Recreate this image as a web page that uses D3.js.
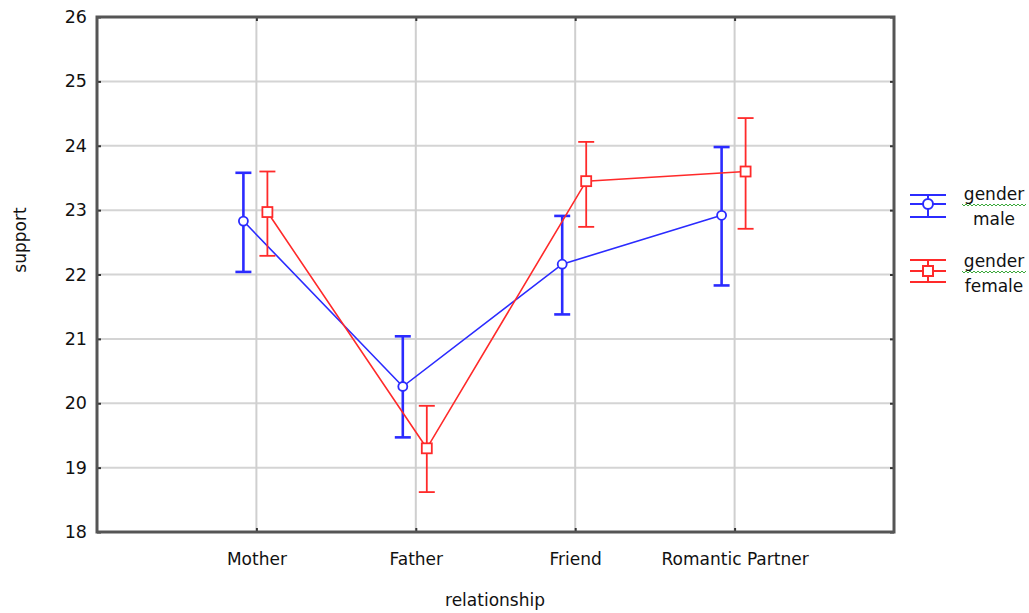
<!DOCTYPE html>
<html>
<head>
<meta charset="utf-8">
<script src="https://cdn.jsdelivr.net/npm/d3@7"></script>
<style>
  body { margin: 0; background: #fff; }
  text { font-family: "DejaVu Sans", sans-serif; fill: #111; }
</style>
</head>
<body>
<script>
// data
var categories = ["Mother", "Father", "Friend", "Romantic Partner"];
var yTicks = [18, 19, 20, 21, 22, 23, 24, 25, 26];

var maleMean  = [22.83, 20.26, 22.16, 22.92];
var maleLow   = [22.04, 19.47, 21.38, 21.83];
var maleHigh  = [23.58, 21.04, 22.91, 23.98];

var femaleMean = [22.97, 19.30, 23.45, 23.60];
var femaleLow  = [22.29, 18.62, 22.74, 22.71];
var femaleHigh = [23.60, 19.96, 24.06, 24.43];

var seriesNames = ["male", "female"];
var seriesColors = ["#2b2bff", "#ff2a2a"];

// plot area
var margin = {top: 17, right: 135, bottom: 81, left: 97},
    width = 1029 - margin.left - margin.right,
    height = 613 - margin.top - margin.bottom;

var svg = d3.select("body").append("svg")
    .attr("width", 1029)
    .attr("height", 613);

var g = svg.append("g")
    .attr("transform", "translate(" + margin.left + "," + margin.top + ")");

var x = d3.scalePoint().domain(categories).range([0, width]).padding(1);
var y = d3.scaleLinear().domain([18, 26]).range([height, 0]);

// grid lines
g.selectAll(".hgrid").data(yTicks).enter().append("line")
    .attr("x1", 0).attr("x2", width)
    .attr("y1", function(d) { return y(d); })
    .attr("y2", function(d) { return y(d); })
    .style("stroke", "#d4d4d4").style("stroke-width", 2);

g.selectAll(".vgrid").data(categories).enter().append("line")
    .attr("x1", function(d) { return x(d); })
    .attr("x2", function(d) { return x(d); })
    .attr("y1", 0).attr("y2", height)
    .style("stroke", "#cfcfcf").style("stroke-width", 2);

// left axis
var yAxis = g.append("g")
    .call(d3.axisLeft(y).tickValues(yTicks).tickSize(-4).tickPadding(10).tickFormat(d3.format("d")));
yAxis.select(".domain").remove();
yAxis.selectAll("line").style("stroke", "#333").style("stroke-width", 2);
yAxis.selectAll("text").style("font-size", "17.5px");

// right axis ticks
var yAxisR = g.append("g")
    .attr("transform", "translate(" + width + ",0)")
    .call(d3.axisRight(y).tickValues(yTicks).tickSize(-4).tickFormat(""));
yAxisR.select(".domain").remove();
yAxisR.selectAll("line").style("stroke", "#333").style("stroke-width", 2);

// bottom axis
var xAxis = g.append("g")
    .attr("transform", "translate(0," + height + ")")
    .call(d3.axisBottom(x).tickSize(-4).tickPadding(21));
xAxis.select(".domain").remove();
xAxis.selectAll("line").style("stroke", "#333").style("stroke-width", 2);
xAxis.selectAll("text").style("font-size", "17px");

// top ticks
var xAxisT = g.append("g")
    .call(d3.axisTop(x).tickSize(-4).tickFormat(""));
xAxisT.select(".domain").remove();
xAxisT.selectAll("line").style("stroke", "#333").style("stroke-width", 2);

// frame
g.append("rect")
    .attr("width", width).attr("height", height)
    .style("fill", "none").style("stroke", "#555").style("stroke-width", 3);

// series
var offsets = [-13, 11];
var series = [
  {mean: maleMean, low: maleLow, high: maleHigh},
  {mean: femaleMean, low: femaleLow, high: femaleHigh}
];

series.forEach(function(s, k) {
  var col = seriesColors[k];
  var pts = categories.map(function(c, i) {
    return {x: x(c) + offsets[k], m: s.mean[i], lo: s.low[i], hi: s.high[i]};
  });
  var lw = k === 0 ? 2.6 : 1.8;

  g.append("path")
      .datum(pts)
      .attr("d", d3.line().x(function(d) { return d.x; }).y(function(d) { return y(d.m); }))
      .style("fill", "none").style("stroke", col).style("stroke-width", 1.6);

  var eb = g.selectAll(".eb" + k).data(pts).enter().append("g");
  eb.append("line")
      .attr("x1", function(d) { return d.x; }).attr("x2", function(d) { return d.x; })
      .attr("y1", function(d) { return y(d.lo); }).attr("y2", function(d) { return y(d.hi); })
      .style("stroke", col).style("stroke-width", lw);
  ["lo", "hi"].forEach(function(key) {
    eb.append("line")
        .attr("x1", function(d) { return d.x - 8; }).attr("x2", function(d) { return d.x + 8; })
        .attr("y1", function(d) { return y(d[key]); }).attr("y2", function(d) { return y(d[key]); })
        .style("stroke", col).style("stroke-width", lw);
  });

  if (k === 0) {
    eb.append("circle")
        .attr("cx", function(d) { return d.x; }).attr("cy", function(d) { return y(d.m); })
        .attr("r", 4.5)
        .style("fill", "#fff").style("stroke", col).style("stroke-width", 1.8);
  } else {
    eb.append("rect")
        .attr("x", function(d) { return d.x - 5; }).attr("y", function(d) { return y(d.m) - 5; })
        .attr("width", 10).attr("height", 10)
        .style("fill", "#fff").style("stroke", col).style("stroke-width", 1.8);
  }
});

// axis labels
svg.append("text")
    .attr("transform", "translate(26,240) rotate(-90)")
    .style("text-anchor", "middle").style("font-size", "17px")
    .text("support");

svg.append("text")
    .attr("x", 495).attr("y", 606)
    .style("text-anchor", "middle").style("font-size", "17px")
    .text("relationship");

// legend
var legendY = [204, 271];
var legendTop = [-9, -11];
var legendBot = [13, 11];
seriesNames.forEach(function(name, k) {
  var col = seriesColors[k];
  var lg = svg.append("g").attr("transform", "translate(928," + legendY[k] + ")");
  [legendTop[k], 0, legendBot[k]].forEach(function(dy) {
    lg.append("line").attr("x1", -18).attr("x2", 18).attr("y1", dy).attr("y2", dy)
        .style("stroke", col).style("stroke-width", 2);
  });
  lg.append("line").attr("x1", 0).attr("x2", 0).attr("y1", legendTop[k]).attr("y2", legendBot[k])
      .style("stroke", col).style("stroke-width", 2);
  if (k === 0) {
    lg.append("circle").attr("r", 5).style("fill", "#fff").style("stroke", col).style("stroke-width", 2);
  } else {
    lg.append("rect").attr("x", -5).attr("y", -5).attr("width", 10).attr("height", 10)
        .style("fill", "#fff").style("stroke", col).style("stroke-width", 2);
  }
  lg.append("text").attr("x", 66).attr("y", -4)
      .style("text-anchor", "middle").style("font-size", "17px").text("gender");
  // spell-check squiggle under "gender"
  var sq = [];
  for (var i = 0; i <= 32; i++) sq.push([34 + i * 2, 0 + (i % 2 === 0 ? 0 : 2)]);
  lg.append("path").attr("d", d3.line()(sq))
      .style("fill", "none").style("stroke", "#3aa83a").style("stroke-width", 1);
  lg.append("text").attr("x", 66).attr("y", 21)
      .style("text-anchor", "middle").style("font-size", "17px").text(name);
});
</script>
</body>
</html>
